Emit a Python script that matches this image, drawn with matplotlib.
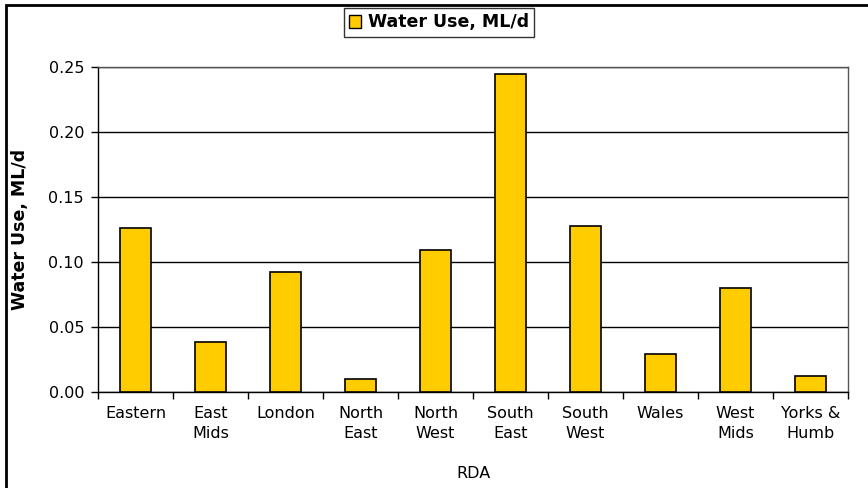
import matplotlib
matplotlib.use("Agg")
import matplotlib.pyplot as plt
from matplotlib.patches import Rectangle
import numpy as np

regions = ["Eastern", "East\nMids", "London", "North\nEast", "North\nWest",
           "South\nEast", "South\nWest", "Wales", "West\nMids", "Yorks &\nHumb"]
water_use = [0.126, 0.038, 0.092, 0.0095, 0.109, 0.245, 0.128, 0.029, 0.080, 0.012]
y_ticks = [0.00, 0.05, 0.10, 0.15, 0.20, 0.25]
series_name = "Water Use, ML/d"

plt.rcParams['font.family'] = ['DejaVu Sans']

fig = plt.figure(figsize=(8.68, 4.88), dpi=100)
ax = fig.add_axes([98 / 868, 1 - 391.7 / 488, 750 / 868, 324.4 / 488])

x = np.arange(len(regions))
bars = ax.bar(x, water_use, width=0.41, color="#FFCC00", edgecolor="black",
              linewidth=1.2, label=series_name, zorder=3)

ax.set_xlim(-0.5, len(regions) - 0.5)
ax.set_ylim(0, 0.25)
ax.set_yticks(y_ticks)
ax.set_yticklabels([f"{v:.2f}" for v in y_ticks], fontsize=11.5)
ax.yaxis.grid(True, color="black", linewidth=1.0, zorder=0)

# category labels centred under bars, tick marks on category boundaries
ax.set_xticks(x)
ax.set_xticklabels(regions, fontsize=11.5, linespacing=1.45)
ax.tick_params(axis="x", length=0, pad=10)
ax.set_xticks(np.arange(len(regions) + 1) - 0.5, minor=True)
ax.tick_params(axis="x", which="minor", length=5, width=1, color="black")
ax.tick_params(axis="y", length=5, width=1, color="black", pad=5)

for side in ["left", "bottom", "top", "right"]:
    ax.spines[side].set_color("black")
    ax.spines[side].set_linewidth(1.0)
ax.spines["top"].set_color("#555555")
ax.spines["right"].set_color("#555555")

ax.set_xlabel("RDA", fontsize=11.5, labelpad=18)
ax.set_ylabel(series_name, fontsize=12.5, fontweight="bold", labelpad=14)

leg = fig.legend(handles=[bars], labels=[series_name], loc="center",
                 bbox_to_anchor=(439 / 868, 1 - 22.5 / 488), frameon=True,
                 fancybox=False, edgecolor="black", handlelength=0.7,
                 handleheight=0.7, handletextpad=0.4, borderpad=0.3,
                 prop={"weight": "bold", "size": 12.5})
leg.get_frame().set_linewidth(1.0)
leg.legend_handles[0].set_linewidth(1.0)

# outer chart border
fig.patches.append(Rectangle((6 / 868, -0.1), 1.2, 1 - 5 / 488 + 0.1,
                             transform=fig.transFigure, fill=False,
                             edgecolor="black", linewidth=2.0, zorder=10))

fig.savefig("out.png", dpi=100)
